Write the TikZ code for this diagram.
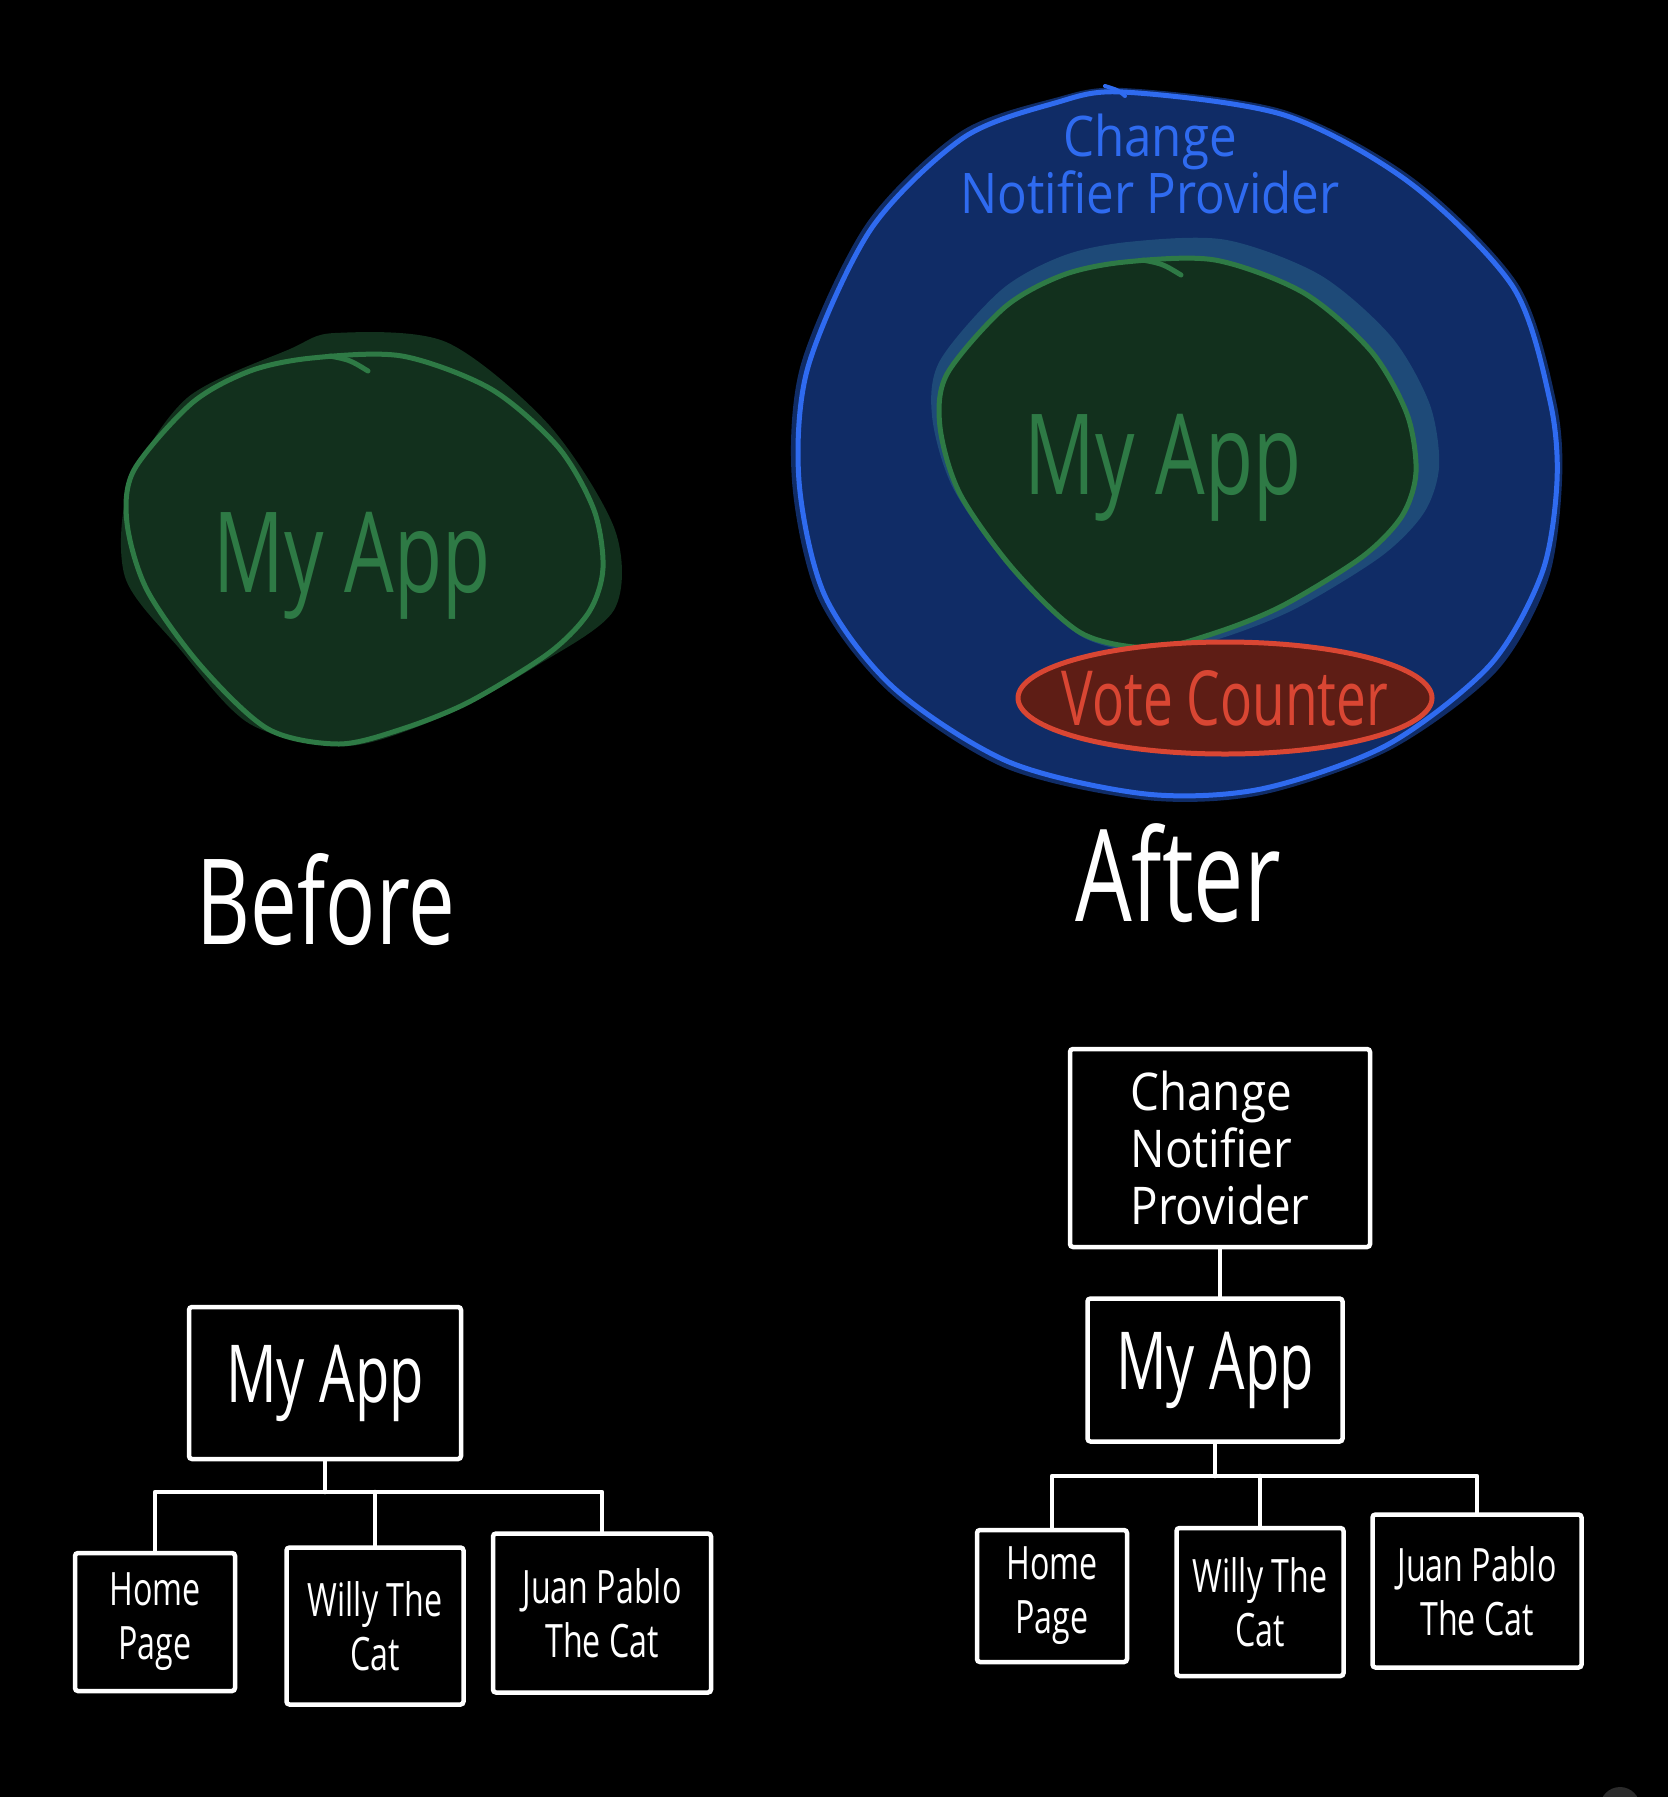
\documentclass[tikz,border=0pt]{standalone}
\usepackage{fontspec}
\newfontfamily\hand[FakeStretch=0.7]{Open Sans}
\newfontfamily\handw[FakeStretch=0.88]{Open Sans}
\newcommand\hf[2]{\hand\fontsize{#1}{#2}\selectfont}
\newcommand\hw[2]{\handw\fontsize{#1}{#2}\selectfont}
\usetikzlibrary{shapes.geometric}
\definecolor{gfill}{HTML}{12301D}
\definecolor{gline}{HTML}{2E7A45}
\definecolor{bfill}{HTML}{102C66}
\definecolor{bline}{HTML}{2F6BF0}
\definecolor{bhalo}{HTML}{1E4A78}
\definecolor{rfill}{HTML}{5E1D15}
\definecolor{rline}{HTML}{D94633}
\newcommand\blobline{plot[smooth cycle] coordinates {(312,358) (402,356) (491,389) (558,447) (594,510) (603,568) (589,612) (549,653) (469,702) (402,729) (339,744) (268,729) (201,666) (147,590) (127,523) (134,470) (192,403) (250,371)}}
\newcommand\blobhook{\draw[gline, line width=5pt, line cap=round] (330,356) .. controls (350,360) .. (368,371);}
\begin{document}
\begin{tikzpicture}[x=1pt,y=-1pt,
  wbox/.style={draw=white, line width=4.5pt, rounded corners=3pt, text=white, align=center, inner sep=0pt},
  conn/.style={draw=white, line width=4.5pt, line cap=round, line join=round},
  bigtext/.style={text=white, inner sep=0pt}]
\fill[black] (0,0) rectangle (1668,1797);
\useasboundingbox (0,0) rectangle (1668,1797);
\fill[black!83] (1620,1807) circle[radius=20];

% ---------- Before ----------
\fill[gfill] plot[smooth cycle] coordinates {(335,333) (446,342) (549,425) (615,530) (614,610) (536,666) (446,715) (348,746) (250,724) (179,648) (125,577) (129,487) (187,398) (290,349)};
\draw[gline, line width=5pt] \blobline;
\blobhook
\node[text=gline, inner sep=0pt, font=\hf{112}{120}] (myapp1) at (352,566) {My App};
\node[bigtext, font=\hf{119}{130}] (before) at (326,900) {Before};

% ---------- After ----------
\fill[bfill] plot[smooth cycle] coordinates {(1123,88) (1284,110) (1413,178) (1518,284) (1556,401) (1562,481) (1548,580) (1496,672) (1390,750) (1261,795) (1146,800) (1005,768) (889,692) (818,598) (792,481) (801,364) (866,224) (960,132) (1055,98)};
\draw[bline, line width=5pt] plot[smooth cycle] coordinates {(1123,92) (1284,115) (1410,183) (1513,287) (1550,401) (1557,481) (1542,573) (1490,665) (1387,745) (1261,789) (1146,794) (1009,762) (894,688) (825,596) (799,481) (808,367) (871,229) (963,138) (1055,103)};
\draw[bline, line width=4pt, line cap=round] (1105,86) .. controls (1118,90) .. (1125,96);
\node[text=bline, inner sep=0pt, align=center, font=\hw{56}{52}] (cnptitle) at (1150,164) {Change\\Notifier Provider};
\begin{scope}[shift={(813,-96)}]
  \fill[bhalo, shift={(8,-8)}, scale around={1.065:(370,545)}] \blobline;
  \fill[gfill] \blobline;
  \draw[gline, line width=5pt] \blobline;
  \blobhook
\end{scope}
\node[text=gline, inner sep=0pt, font=\hf{112}{120}] (myapp2) at (1163,468) {My App};
\node[draw=rline, fill=rfill, line width=5pt, ellipse, minimum width=414, minimum height=112, inner xsep=-30pt, inner ysep=-12pt, text=rline, font=\hf{76}{84}] (vote) at (1225,698) {Vote Counter};
\node[bigtext, font=\hf{128}{140}] (after) at (1178,873) {After};

% ---------- Tree before ----------
\node[wbox, minimum width=272, minimum height=152, font=\hf{80}{90}] (app1) at (325,1383) {My App};
\node[wbox, minimum width=160, minimum height=138, font=\hf{46}{54}] (home1) at (155,1622) {Home\\Page};
\node[wbox, minimum width=177, minimum height=157, font=\hf{46}{54}] (willy1) at (375,1626) {Willy The\\Cat};
\node[wbox, minimum width=218, minimum height=159, font=\hf{46}{54}] (juan1) at (602,1613) {Juan Pablo\\The Cat};
\coordinate (bar1) at (325,1492);
\draw[conn] (app1.south) -- (bar1);
\draw[conn] (home1.north) |- (bar1) -| (juan1.north);
\draw[conn] (willy1.north) -- (willy1.north |- bar1);

% ---------- Tree after ----------
\node[wbox, minimum width=300, minimum height=198, align=left, font=\hw{52}{57}] (cnp2) at (1220,1148) {Change\\Notifier\\Provider};
\node[wbox, minimum width=255, minimum height=143, font=\hf{80}{90}] (app2) at (1215,1370) {My App};
\node[wbox, minimum width=150, minimum height=132, font=\hf{46}{54}] (home2) at (1052,1596) {Home\\Page};
\node[wbox, minimum width=167, minimum height=148, font=\hf{46}{54}] (willy2) at (1260,1602) {Willy The\\Cat};
\node[wbox, minimum width=209, minimum height=153, font=\hf{46}{54}] (juan2) at (1477,1591) {Juan Pablo\\The Cat};
\draw[conn] (cnp2.south) -- (cnp2.south |- app2.north);
\coordinate (bar2) at (1215,1476);
\draw[conn] (app2.south) -- (bar2);
\draw[conn] (home2.north) |- (bar2) -| (juan2.north);
\draw[conn] (willy2.north) -- (willy2.north |- bar2);
\end{tikzpicture}
\end{document}
